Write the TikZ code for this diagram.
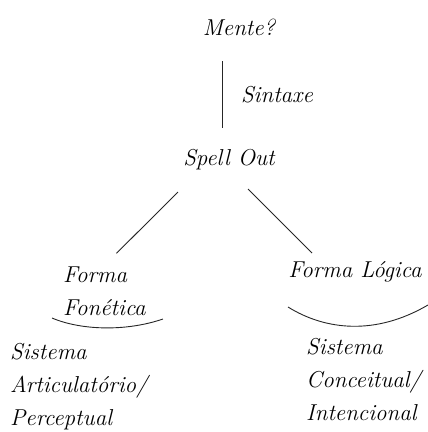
\documentclass[tikz,border=0pt]{standalone}
\usepackage{fontspec}
\usepackage{tikz}
\tikzset{
      termnode/.style={
        font=\fontsize{23}{33}\selectfont\itshape,
        inner sep=0pt,
        text height=16pt,
        text depth=5pt
      },
      blocknode/.style={
        font=\fontsize{23}{33}\selectfont\itshape,
        inner sep=0pt,
        align=left,
        anchor=west
      },
      treeline/.style={
        draw=black!85,
        line width=0.9pt
      }
    }
\begin{document}
\begin{tikzpicture}[x=1pt,y=-1pt]
    \useasboundingbox (0,0) rectangle (428,432);
    \node[termnode] (mente) at (239,30) {Mente?};
    \node[termnode] (sintaxe) at (277,97) {Sintaxe};
    \node[termnode] (spell) at (229,160) {Spell Out};
    \node[blocknode] (fonetica) at (63,291) {Forma\\Fonética};
    \node[termnode] (logica) at (355,272) {Forma Lógica};
    \node[blocknode] (articul) at (10,387) {Sistema\\Articulatório/\\Perceptual};
    \node[blocknode] (conceit) at (306,380) {Sistema\\Conceitual/\\Intencional};
    \draw[treeline] ([shift={(-17,31)}]mente.center) -- ([shift={(-7,-32)}]spell.center);
    \draw[treeline] ([shift={(-51,32)}]spell.center) -- ([shift={(12,-13)}]fonetica.north);
    \draw[treeline] ([shift={(19,29)}]spell.center) -- ([shift={(-43,-19)}]logica.center);
    \draw[treeline] (52,318) .. controls (80,330) and (125,332) .. (163,319);
    \draw[treeline] (288,307) .. controls (325,330) and (375,336) .. (428,305);
    \end{tikzpicture}
\end{document}
